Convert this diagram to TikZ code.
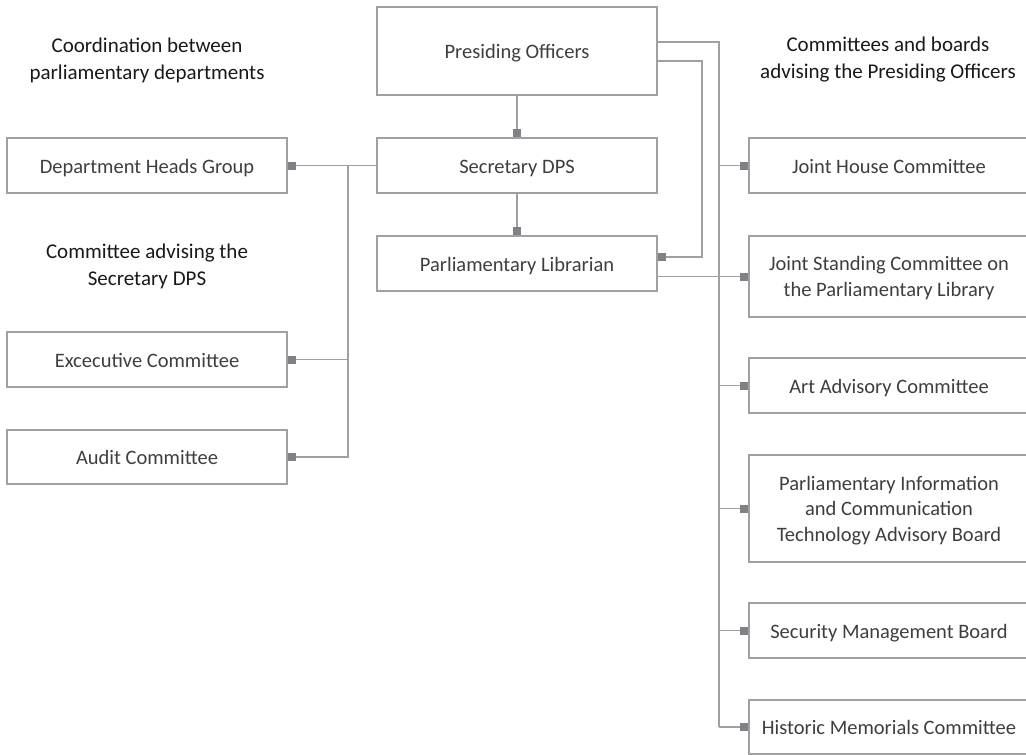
\documentclass[tikz,border=0pt]{standalone}
\usepackage{fontspec}
\setmainfont{Carlito}
\usetikzlibrary{arrows.meta}
\definecolor{linegray}{RGB}{160,160,160}
\definecolor{markgray}{RGB}{128,128,134}
\definecolor{boxtext}{RGB}{62,62,62}
\definecolor{headtext}{RGB}{25,25,25}
\tikzset{
  box/.style={draw=linegray, line width=1.3pt, minimum width=280pt, align=center,
    text=boxtext, inner sep=0pt, text depth=0pt, font=\fontsize{20.5}{25.5}\selectfont},
  oneline/.style={text height=15pt},
  multiline/.style={yshift=0pt},
  head/.style={align=center, text=headtext, inner sep=0pt, font=\fontsize{21}{27}\selectfont},
  wire/.style={draw=linegray, line width=1.3pt},
  conn/.style={wire, -{Square[length=8pt,width=8pt,color=markgray]}},
}
\begin{document}
\begin{tikzpicture}[x=1pt,y=-1pt]
\useasboundingbox (0,0) rectangle (1026,755);
\clip (0,0) rectangle (1026,755);
% centre column
\node[box, oneline, minimum height=88pt] (po) at (517,51) {Presiding Officers};
\node[box, oneline, minimum height=55pt] (sdps) at (517,165.5) {Secretary DPS};
\node[box, oneline, minimum height=55pt] (lib) at (517,263.5) {Parliamentary Librarian};
% left column
\node[box, oneline, minimum height=55pt] (dhg) at (147,165.5) {Department Heads Group};
\node[box, oneline, minimum height=55pt] (exec) at (147,359.5) {Excecutive Committee};
\node[box, oneline, minimum height=54pt] (audit) at (147,457) {Audit Committee};
% right column
\node[box, oneline, minimum height=55pt] (jhc) at (889,165.5) {Joint House Committee};
\node[box, minimum height=81pt] (jsc) at (889,276.5) {Joint Standing Committee on\\the Parliamentary Library};
\node[box, oneline, minimum height=55pt] (art) at (889,385.5) {Art Advisory Committee};
\node[box, minimum height=107pt] (pict) at (889,508.5) {Parliamentary Information\\and Communication\\Technology Advisory Board};
\node[box, oneline, minimum height=55pt] (smb) at (889,630.5) {Security Management Board};
\node[box, oneline, minimum height=54pt] (hmc) at (889,727) {Historic Memorials Committee};
% headings
\node[head] (h1) at (147,60) {Coordination between\\parliamentary departments};
\node[head] (h2) at (147,266) {Committee advising the\\Secretary DPS};
\node[head] (h3) at (888,60) {Committees and boards\\advising the Presiding Officers};
% coordinates
\coordinate (rtrunk) at (719,727);
\coordinate (loop) at (702,0);
\coordinate (ltrunk) at (348,0);
\coordinate (poA) at ([yshift=9pt]po.east);
\coordinate (poB) at ([yshift=-10pt]po.east);
\coordinate (libIn) at ([yshift=6.5pt]lib.east);
% centre connectors
\draw[conn] (po) -- (sdps);
\draw[conn] (sdps) -- (lib);
% right trunk
\draw[wire] (poA) -| (rtrunk);
\draw[conn] (rtrunk) -- (hmc.west);
\draw[conn] (rtrunk |- jhc.west) -- (jhc.west);
\draw[conn] (rtrunk |- art.west) -- (art.west);
\draw[conn] (rtrunk |- pict.west) -- (pict.west);
\draw[conn] (rtrunk |- smb.west) -- (smb.west);
\draw[conn] (lib.east |- jsc.west) -- (jsc.west);
% librarian loop
\draw[conn] (poB) -| (loop |- libIn) -- (libIn);
% left side
\draw[conn] (sdps.west) -- (dhg.east);
\draw[conn] (ltrunk |- dhg.east) |- (audit.east);
\draw[conn] (ltrunk |- exec.east) -- (exec.east);
\end{tikzpicture}
\end{document}
